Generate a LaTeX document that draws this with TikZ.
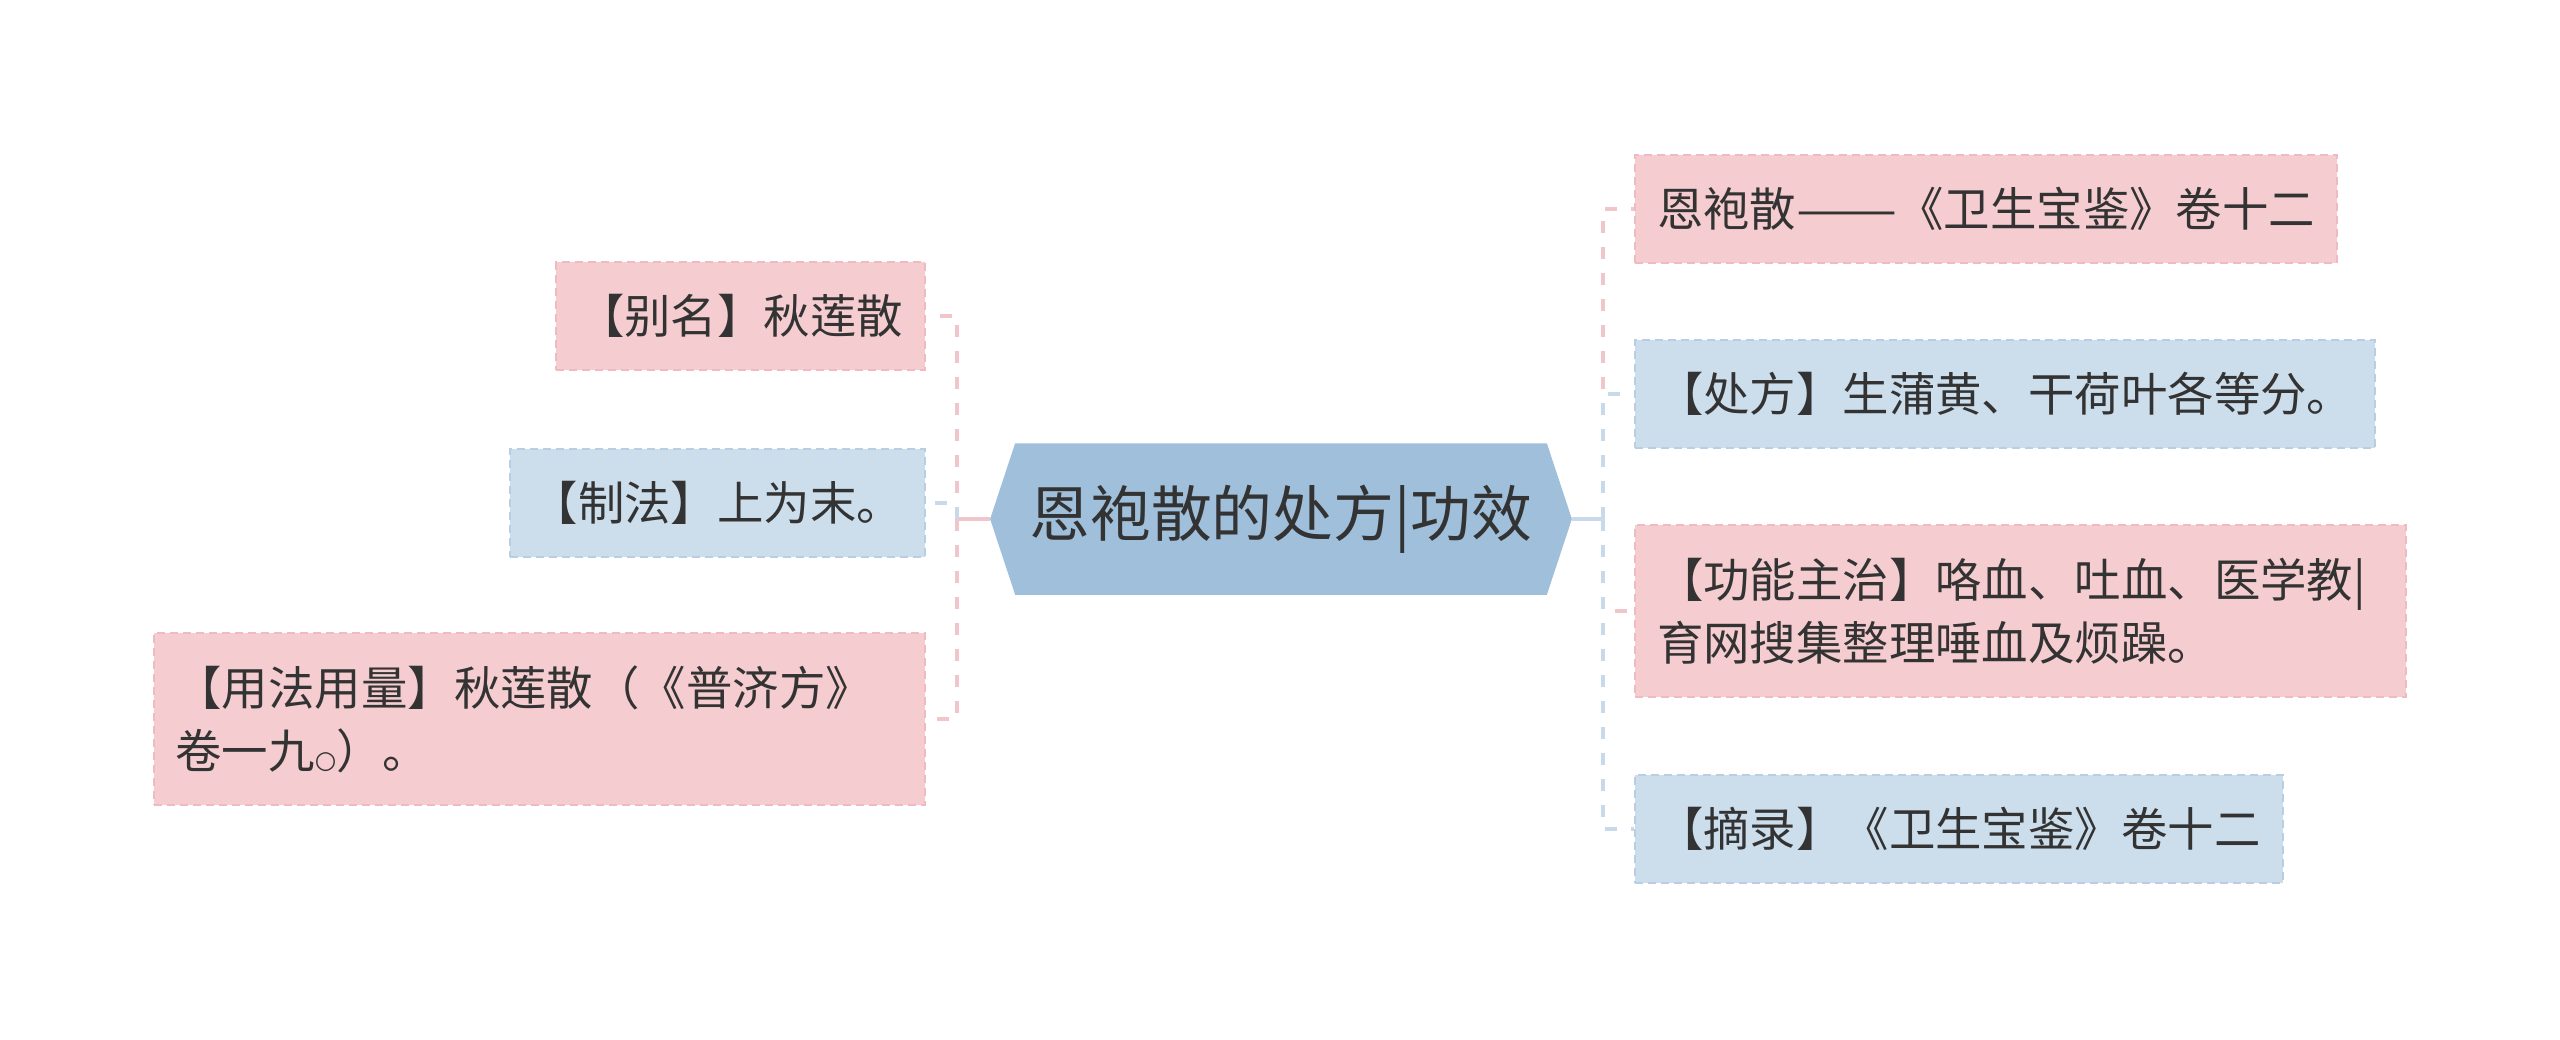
\documentclass[tikz,border=0pt]{standalone}
\usepackage{fontspec}
\newfontfamily\cjk{Noto Sans CJK SC}
\newfontfamily\dejavu{DejaVu Sans}
\usetikzlibrary{backgrounds}
\definecolor{pinkfill}{HTML}{F5CDD0}
\definecolor{pinkborder}{HTML}{EFBAC0}
\definecolor{bluefill}{HTML}{CCDDEC}
\definecolor{blueborder}{HTML}{B8CEE3}
\definecolor{centerfill}{HTML}{9FBFDB}
\definecolor{pinkline}{HTML}{F1C6CA}
\definecolor{blueline}{HTML}{C8DAEA}
\definecolor{txt}{HTML}{333333}
\newcommand\leaffont{\cjk\fontsize{13.2pt}{17.9pt}\selectfont}
\newcommand\centerfont{\cjk\fontsize{17.3pt}{20pt}\selectfont}
\tikzset{
  leafbase/.style={rectangle, line width=0.02cm, dash pattern=on 0.08cm off 0.05cm,
    inner xsep=0.22cm, inner ysep=0cm, minimum height=1.08cm, font=\leaffont,
    text=txt, align=left},
  pinkleaf/.style={leafbase, fill=pinkfill, draw=pinkborder},
  blueleaf/.style={leafbase, fill=bluefill, draw=blueborder},
  conn/.style={line width=0.045cm, dash pattern=on 0.12cm off 0.14cm},
  stem/.style={line width=0.045cm, solid},
}
\begin{document}
\begin{tikzpicture}[x=0.01cm, y=-0.01cm]
\useasboundingbox (0,0) rectangle (2560,1039);

% center
\node (c) at (1281,519) [minimum width=5.8cm, minimum height=1.5cm, inner sep=0pt,
  font=\centerfont, text=txt] {恩袍散的处方|功效};

% left leaves
\node (l1) [pinkleaf, anchor=east] at (926,316) {【别名】秋莲散};
\node (l2) [blueleaf, anchor=east] at (926,503) {【制法】上为末。};
\node (l3) [pinkleaf, anchor=east, text width=7.27cm, minimum height=1.72cm] at (926,719)
  {【用法用量】秋莲散（《普济方》\\卷一九{\dejavu\fontsize{7pt}{7pt}\selectfont ○}）。};

% right leaves
\node (r1) [pinkleaf, anchor=west] at (1634,209) {恩袍散\scalebox{1.3}[1]{——}《卫生宝鉴》卷十二};
\node (r2) [blueleaf, anchor=west] at (1634,394) {【处方】生蒲黄、干荷叶各等分。};
\node (r3) [pinkleaf, anchor=west, text width=7.27cm, minimum height=1.71cm] at (1634,611)
  {【功能主治】咯血、吐血、医学教|\\育网搜集整理唾血及烦躁。};
\node (r4) [blueleaf, anchor=west] at (1634,829) {【摘录】《卫生宝鉴》卷十二};

% junctions
\coordinate (lj) at ([xshift=-0.33cm]c.west);
\coordinate (rj) at ([xshift=0.31cm]c.east);

\begin{pgfonlayer}{background}
\fill[white] (0,0) rectangle (2560,1039);
\fill[centerfill] (c.west) -- ([xshift=0.25cm]c.north west) -- ([xshift=-0.25cm]c.north east)
  -- (c.east) -- ([xshift=-0.25cm]c.south east) -- ([xshift=0.25cm]c.south west) -- cycle;
% left connectors
\draw[stem, pinkline] (c.west) -- (lj);
\draw[conn, pinkline] (lj) |- (l1.east);
\draw[conn, blueline] (lj) |- (l2.east);
\draw[conn, pinkline] (lj) |- (l3.east);
% right connectors
\draw[stem, blueline] (c.east) -- (rj);
\draw[conn, pinkline] (rj) |- (r1.west);
\draw[conn, blueline] (rj) |- (r2.west);
\draw[conn, pinkline] (rj) |- (r3.west);
\draw[conn, blueline] (rj) |- (r4.west);
\end{pgfonlayer}
\end{tikzpicture}
\end{document}
